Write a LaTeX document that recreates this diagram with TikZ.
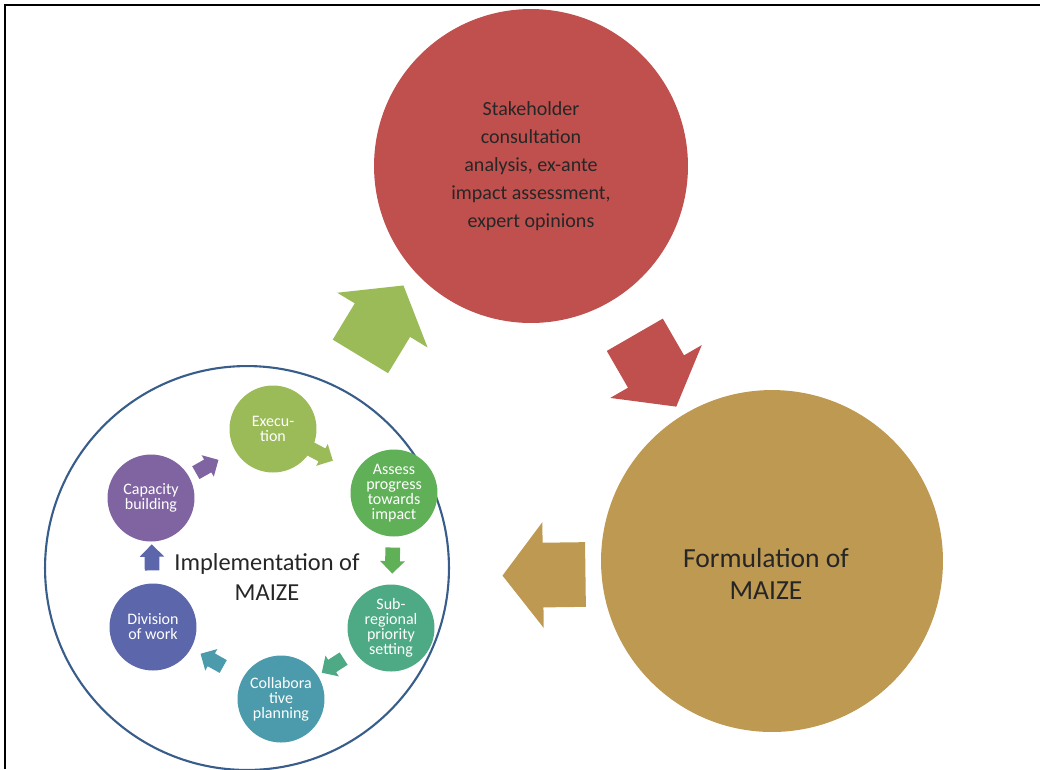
\documentclass[tikz,border=0pt]{standalone}
\usepackage{fontspec}
\setmainfont{Carlito}
\usepackage{tikz}
\usetikzlibrary{shapes,arrows,positioning,calc}
\usepackage{xcolor}

\definecolor{stakered}{RGB}{192,80,77}
\definecolor{formgold}{RGB}{190,153,82}
\definecolor{ringblue}{RGB}{56,93,138}
\definecolor{exegreen}{RGB}{155,187,89}
\definecolor{assgreen}{RGB}{96,176,88}
\definecolor{subteal}{RGB}{77,170,132}
\definecolor{colteal}{RGB}{75,155,172}
\definecolor{divblue}{RGB}{92,102,170}
\definecolor{cappurple}{RGB}{128,100,162}

\begin{document}
\begin{tikzpicture}[x=0.02cm,y=-0.02cm,
    bigcirc/.style={circle,inner sep=0pt,align=center,text=black!85},
    smallcirc/.style={circle,minimum size=1.74cm,inner sep=0pt,align=center,text=white,
        font=\fontsize{9.1}{8.5}\selectfont},
    bigarr/.style={single arrow,minimum height=1.66cm,minimum width=2.1cm,
        single arrow head extend=0.41cm,single arrow tip angle=105,
        inner xsep=0pt,inner ysep=0.64cm,sloped,allow upside down},
    smallarr/.style={single arrow,minimum height=0.52cm,minimum width=0.48cm,
        single arrow head extend=0.1cm,single arrow tip angle=90,
        inner xsep=0pt,inner ysep=0.14cm,sloped,allow upside down}]
\useasboundingbox (0,0) rectangle (1040,769);
% frame, top and left edge only
\draw[line width=1.5pt] (1040,5) -- (5,5) -- (5,769);

% the three stages
\node[bigcirc, fill=stakered, minimum size=6.28cm,
      font=\fontsize{11.4}{16}\selectfont] (stake) at (531,166)
      {Stakeholder\\consultation\\analysis, ex-ante\\impact assessment,\\expert opinions};
\node[bigcirc, fill=formgold, minimum size=6.84cm] (form) at (772,561) {};
\node[font=\fontsize{15.7}{18.5}\selectfont, align=center, text=black!85] (formtxt)
      at ([shift={(-6,13)}]form.center) {Formulation of\\MAIZE};
\node[circle, draw=ringblue, line width=1.2pt, minimum size=8.08cm] (impl) at (247,568) {};
\node[font=\fontsize{13.9}{17}\selectfont, align=center, text=black!85] (impltxt)
      at ([shift={(20,9)}]impl.center) {Implementation of\\MAIZE};

% inner cycle
\foreach \n/\x/\y/\c/\t in {
    exe/273/429/exegreen/{Execu-\\tion},
    ass/394/493/assgreen/{Assess\\progress\\towards\\impact},
    sub/391/628/subteal/{Sub-\\regional\\priority\\setting},
    col/281/699/colteal/{Collabora\\tive\\planning},
    div/153/627/divblue/{Division\\of work},
    cap/151/498/cappurple/{Capacity\\building}}
  \node[smallcirc, fill=\c] (\n) at (\x,\y) {\t};

\foreach \a/\b/\p/\c in {cap/exe/0.434/cappurple, exe/ass/0.373/exegreen,
    ass/sub/0.473/assgreen, sub/col/0.502/subteal, col/div/0.515/colteal, div/cap/0.511/divblue}
  \path (\a.center) -- node[smallarr, fill=\c, pos=\p] {} (\b.center);

% outer cycle
\path (impl.center) -- node[bigarr, fill=exegreen, pos=0.543, yshift=0.63cm, rotate=4] {} (stake.center);
\path (stake.center) -- node[bigarr, fill=stakered, pos=0.491, rotate=-1.4] {} (form.center);
\path (form.center) -- node[bigarr, fill=formgold, pos=0.411, yshift=0.22cm] {} (impl.center);
\end{tikzpicture}
\end{document}
